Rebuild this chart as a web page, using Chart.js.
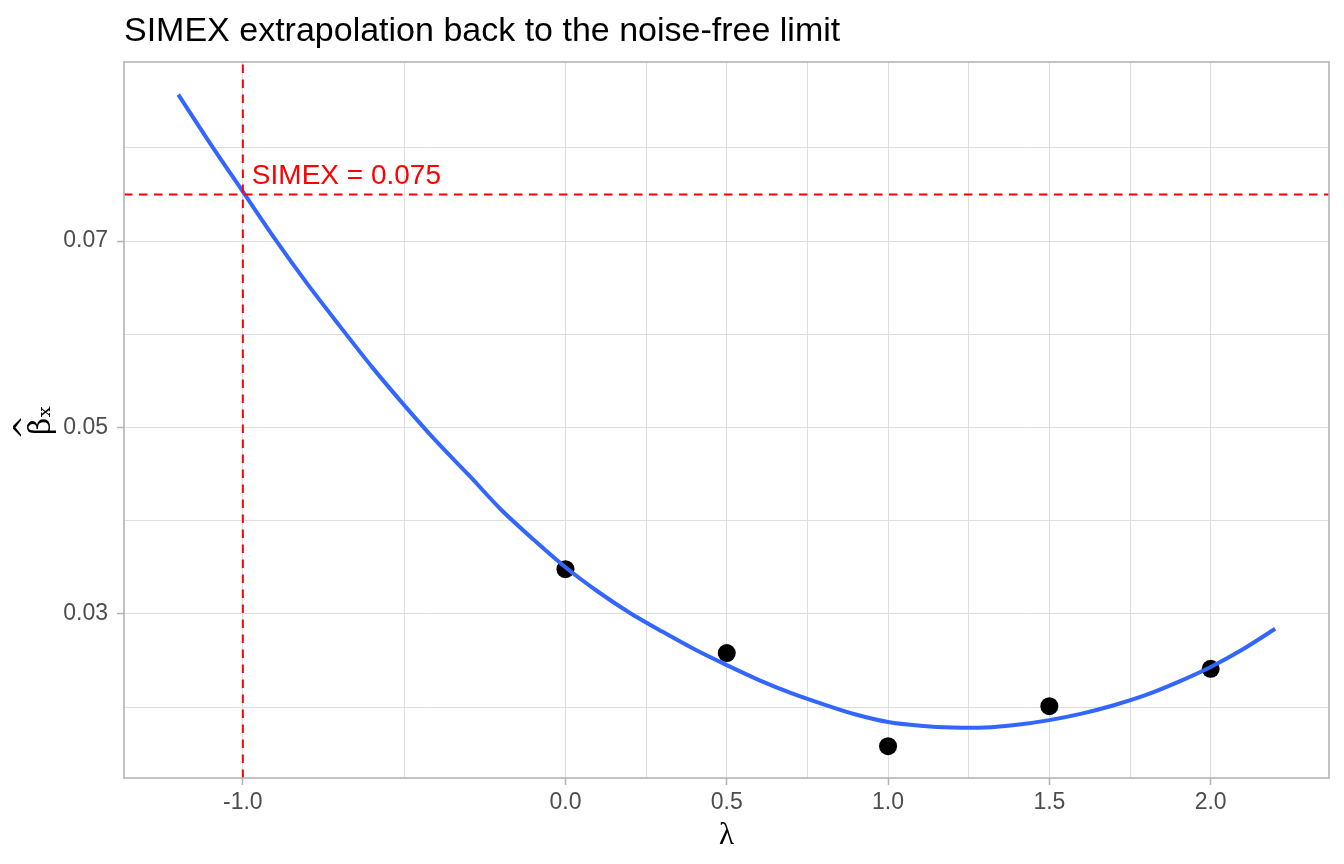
<!DOCTYPE html>
<html>
<head>
<meta charset="utf-8">
<script src="https://cdn.jsdelivr.net/npm/chart.js@4/dist/chart.umd.min.js"></script>
<style>
html, body { margin: 0; padding: 0; background: #ffffff; }
#wrap { width: 1344px; height: 864px; }
</style>
</head>
<body>
<div id="wrap"><canvas id="c" width="1344" height="864"></canvas></div>
<script>
// Simulated estimates at each noise level lambda
const pointLambda = [0.0, 0.5, 1.0, 1.5, 2.0];
const pointBeta = [0.0348, 0.0258, 0.0158, 0.0201, 0.0241];

// Fitted extrapolation curve
const curveLambda = [-1.2, -1.1, -1.0, -0.9, -0.8, -0.7, -0.6, -0.5, -0.4, -0.3, -0.2, -0.1,
  0.0, 0.1, 0.2, 0.3, 0.4, 0.5, 0.6, 0.7, 0.8, 0.9, 1.0, 1.1, 1.2, 1.3, 1.4, 1.5, 1.6, 1.7,
  1.8, 1.9, 2.0, 2.1, 2.2];
const curveBeta = [0.0857, 0.0804, 0.0753, 0.0702, 0.0654, 0.0609, 0.0565, 0.0524, 0.0485, 0.0449, 0.0412, 0.0380,
  0.0350, 0.0324, 0.0301, 0.0281, 0.0262, 0.0245, 0.0229, 0.0215, 0.0203, 0.0192, 0.0184, 0.0180, 0.0178, 0.0178,
  0.0181, 0.0186, 0.0193, 0.0202, 0.0213, 0.0227, 0.0243, 0.0262, 0.0284];

// Axis ticks and grid
const xTickLabels = [-1.0, 0.0, 0.5, 1.0, 1.5, 2.0];
const xGridValues = [-1.0, -0.5, 0.0, 0.25, 0.5, 0.75, 1.0, 1.25, 1.5, 1.75, 2.0];
const yTickLabels = [0.03, 0.05, 0.07];
const yGridValues = [0.02, 0.03, 0.04, 0.05, 0.06, 0.07, 0.08];

// SIMEX reference lines
const simexLambda = -1.0;
const simexValue = 0.075;
const simexLabel = 'SIMEX = 0.075';

const titleText = 'SIMEX extrapolation back to the noise-free limit';
const xTitle = 'λ';
// hat line above beta with subscript x (rotated axis title: first line sits above)
const yTitle = ['^\u2002', 'βₓ'];

const isIn = (arr, v) => arr.some(a => Math.abs(a - v) < 1e-9);

const sans = '"Liberation Sans", Arial, sans-serif';
const serif = '"Liberation Serif", "DejaVu Serif", serif';
const serifY = '"DejaVu Serif", serif';

const simexPlugin = {
  id: 'simexPlugin',
  afterDatasetsDraw(chart) {
    const { ctx, chartArea, scales } = chart;
    const px = scales.x.getPixelForValue(simexLambda);
    const py = scales.y.getPixelForValue(simexValue);
    ctx.save();
    ctx.beginPath();
    ctx.rect(chartArea.left, chartArea.top, chartArea.right - chartArea.left, chartArea.bottom - chartArea.top);
    ctx.clip();
    ctx.strokeStyle = '#FF0000';
    ctx.lineWidth = 2;
    ctx.setLineDash([8.5, 6.5]);
    ctx.beginPath();
    ctx.moveTo(px, chartArea.bottom);
    ctx.lineTo(px, chartArea.top);
    ctx.stroke();
    ctx.beginPath();
    ctx.moveTo(chartArea.left, py);
    ctx.lineTo(chartArea.right, py);
    ctx.stroke();
    ctx.setLineDash([]);
    ctx.fillStyle = '#FF0000';
    ctx.font = '28px ' + sans;
    ctx.textAlign = 'left';
    ctx.textBaseline = 'alphabetic';
    ctx.fillText(simexLabel, px + 9, py - 10);
    ctx.restore();
  },
  afterDraw(chart) {
    const { ctx, chartArea } = chart;
    ctx.save();
    ctx.strokeStyle = '#B3B3B3';
    ctx.lineWidth = 1.6;
    ctx.strokeRect(chartArea.left, chartArea.top, chartArea.right - chartArea.left, chartArea.bottom - chartArea.top);
    ctx.restore();
  }
};

new Chart(document.getElementById('c'), {
  type: 'scatter',
  data: {
    datasets: [
      {
        label: 'fit',
        data: curveLambda.map((x, i) => ({ x: x, y: curveBeta[i] })),
        showLine: true,
        fill: false,
        borderColor: '#3366FF',
        borderWidth: 4,
        pointRadius: 0,
        pointHoverRadius: 0,
        tension: 0.3,
        order: 0
      },
      {
        label: 'estimates',
        data: pointLambda.map((x, i) => ({ x: x, y: pointBeta[i] })),
        backgroundColor: '#000000',
        borderColor: '#000000',
        borderWidth: 0,
        pointRadius: 9,
        pointHoverRadius: 9,
        order: 1
      }
    ]
  },
  options: {
    responsive: false,
    devicePixelRatio: 1,
    animation: false,
    layout: { padding: { left: 0, right: 15, top: 0, bottom: 0 } },
    plugins: {
      legend: { display: false },
      tooltip: { enabled: false },
      title: {
        display: true,
        text: titleText,
        align: 'start',
        fullSize: false,
        color: '#000000',
        font: { family: sans, size: 34, weight: 'normal' },
        padding: { top: 11.5, bottom: 9.7 }
      }
    },
    scales: {
      x: {
        type: 'linear',
        min: -1.3684,
        max: 2.3668,
        afterBuildTicks: (scale) => { scale.ticks = xGridValues.map(v => ({ value: v })); },
        afterFit: (scale) => { scale.height = 86; },
        ticks: {
          autoSkip: false,
          maxRotation: 0,
          padding: 4,
          color: '#4D4D4D',
          font: { family: sans, size: 23 },
          callback: (v) => isIn(xTickLabels, v) ? Number(v).toFixed(1) : ''
        },
        grid: {
          color: '#DEDEDE',
          lineWidth: 1,
          tickLength: 7,
          tickWidth: 1.5,
          tickColor: (c) => (c.tick && isIn(xTickLabels, c.tick.value)) ? '#B3B3B3' : 'rgba(0,0,0,0)'
        },
        border: { display: false },
        title: {
          display: true,
          text: xTitle,
          color: '#000000',
          font: { family: serif, size: 31 },
          padding: { top: 0, bottom: 10 }
        }
      },
      y: {
        type: 'linear',
        min: 0.01239,
        max: 0.08921,
        afterBuildTicks: (scale) => { scale.ticks = yGridValues.map(v => ({ value: v })); },
        afterFit: (scale) => { scale.width = 124; },
        ticks: {
          autoSkip: false,
          padding: 9,
          color: '#4D4D4D',
          font: { family: sans, size: 23 },
          callback: (v) => isIn(yTickLabels, v) ? Number(v).toFixed(2) : ''
        },
        grid: {
          color: '#DEDEDE',
          lineWidth: 1,
          tickLength: 7,
          tickWidth: 1.5,
          tickColor: (c) => (c.tick && isIn(yTickLabels, c.tick.value)) ? '#B3B3B3' : 'rgba(0,0,0,0)'
        },
        border: { display: false },
        title: {
          display: true,
          text: yTitle,
          color: '#000000',
          font: { family: serifY, size: 30, lineHeight: 0.5 },
          padding: { top: 19.5, bottom: 0 }
        }
      }
    }
  },
  plugins: [simexPlugin]
});
</script>
</body>
</html>
